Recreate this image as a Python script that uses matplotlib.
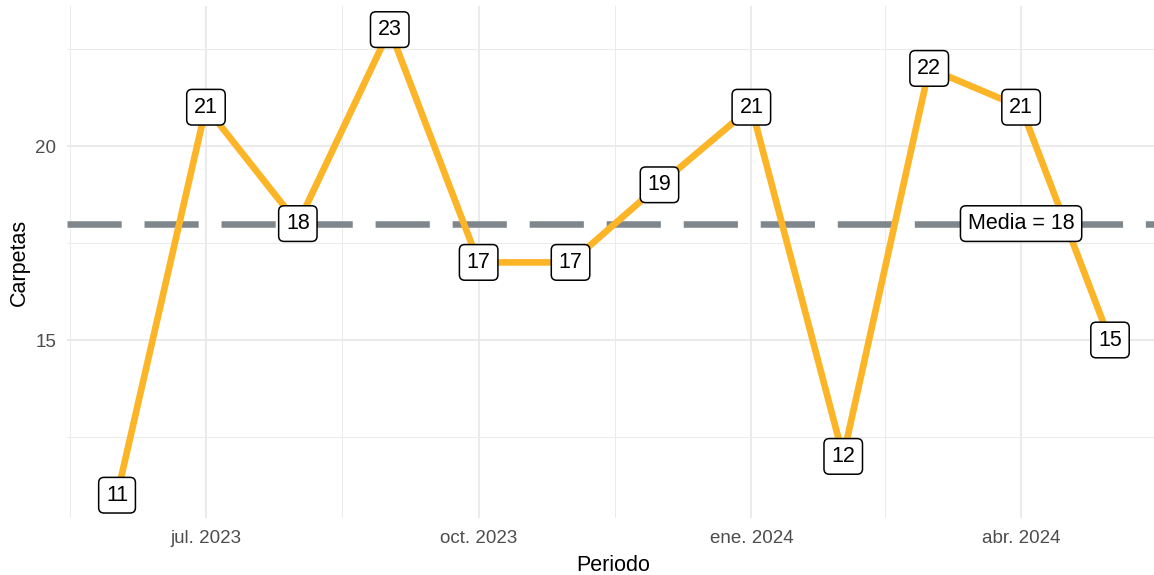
import matplotlib
matplotlib.use("Agg")
import matplotlib.pyplot as plt
import matplotlib.dates as mdates
import numpy as np
from datetime import date, timedelta

plt.rcParams['font.family'] = ['Liberation Sans', 'DejaVu Sans']

# data
meses   = [date(2023, 6, 1), date(2023, 7, 1), date(2023, 8, 1), date(2023, 9, 1),
           date(2023, 10, 1), date(2023, 11, 1), date(2023, 12, 1), date(2024, 1, 1),
           date(2024, 2, 1), date(2024, 3, 1), date(2024, 4, 1), date(2024, 5, 1)]
carpetas = [11, 21, 18, 23, 17, 17, 19, 21, 12, 22, 21, 15]
ticks_x  = [date(2023, 7, 1), date(2023, 10, 1), date(2024, 1, 1), date(2024, 4, 1)]
ticks_lb = ["jul. 2023", "oct. 2023", "ene. 2024", "abr. 2024"]
minor_x  = [date(2023, 5, 16), date(2023, 8, 16), date(2023, 11, 16), date(2024, 2, 15)]
ticks_y  = [15, 20]
minor_y  = [12.5, 17.5, 22.5]
media    = 18
media_x  = date(2024, 4, 1)

fig = plt.figure(figsize=(11.54, 5.75), dpi=100)
ax = fig.add_axes([0.0584, 0.0983, 0.9465, 0.8907])

x = mdates.date2num(meses)
ax.plot(x, carpetas, color='#fbb527', lw=4.8, solid_joinstyle='round',
        solid_capstyle='butt', zorder=3)
ax.axhline(media, color='#7f878c', lw=4.7, dashes=(8.3, 3.5), zorder=2)

box = dict(boxstyle='round,pad=0.34,rounding_size=0.25', fc='white', ec='black', lw=1.1)
for xi, yi in zip(x, carpetas):
    ax.text(xi, yi, str(yi), ha='center', va='center', fontsize=15.5,
            color='black', bbox=box, zorder=5)
ax.text(mdates.date2num(media_x), media, "Media = %d" % media, ha='center', va='center',
        fontsize=15.5, color='black', bbox=box, zorder=5)

span = 335
pad = span * 0.05
ax.set_xlim(x[0] - pad, x[-1] + pad)
ax.set_ylim(10.4, 23.6)

ax.set_xticks(mdates.date2num(ticks_x))
ax.set_xticklabels(ticks_lb)
ax.set_xticks(mdates.date2num(minor_x), minor=True)
ax.set_yticks(ticks_y)
ax.set_yticks(minor_y, minor=True)
ax.tick_params(which='both', length=0, labelsize=13.5, labelcolor='#4d4d4d', pad=8)

ax.grid(which='major', color='#e8e8e8', lw=1.2)
ax.grid(which='minor', color='#ebebeb', lw=0.7)
ax.set_axisbelow(True)
for s in ax.spines.values():
    s.set_visible(False)

ax.set_xlabel("Periodo", fontsize=15.5, labelpad=6)
ax.set_ylabel("Carpetas", fontsize=15.5, labelpad=4)

fig.savefig("out.png", dpi=100)
